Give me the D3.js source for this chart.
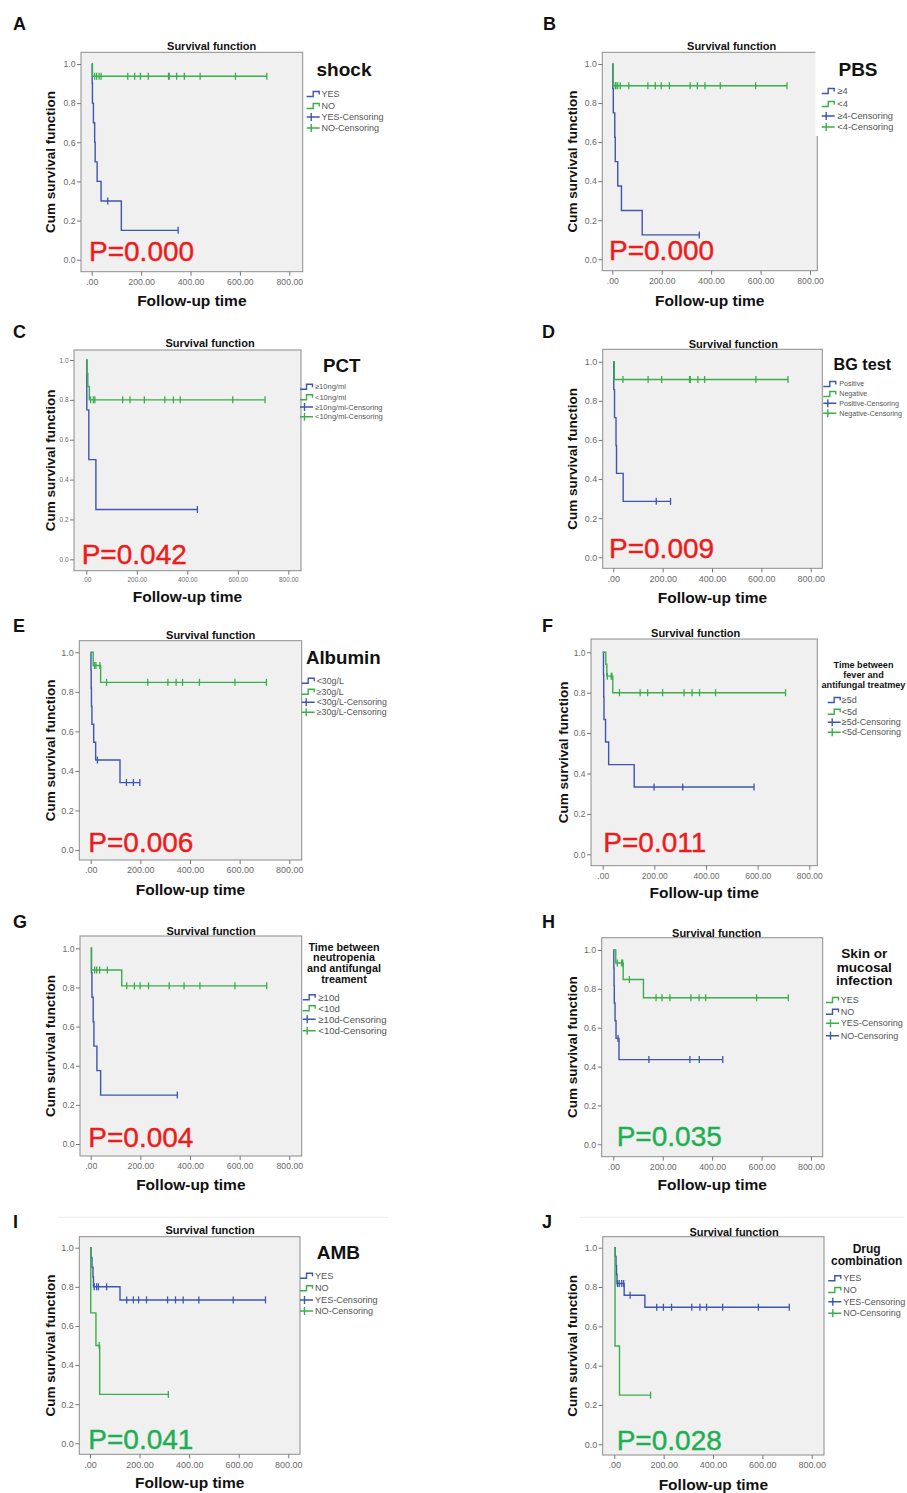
<!DOCTYPE html>
<html><head><meta charset="utf-8">
<script src="https://cdn.jsdelivr.net/npm/d3@7"></script>
<style>body{margin:0;background:#fff}svg{display:block}</style>
</head><body>
<svg id="fig" width="907" height="1493"></svg>
<script>
// ================= DATA =================
const panelLetters = ["A","B","C","D","E","F","G","H","I","J"];
const chartTitle = "Survival function";
const yAxisLabel = "Cum survival function";
const xAxisLabel = "Follow-up time";
const variableTitles = [
  ["shock"], ["PBS"], ["PCT"], ["BG test"], ["Albumin"],
  ["Time between","fever and","antifungal treatmey"],
  ["Time between","neutropenia","and antifungal","treament"],
  ["Skin or","mucosal","infection"], ["AMB"], ["Drug","combination"]
];
const pValues = ["P=0.000","P=0.000","P=0.042","P=0.009","P=0.006","P=0.011","P=0.004","P=0.035","P=0.041","P=0.028"];
const groupLabels = [
  ["YES","NO"], ["≥4","<4"], ["≥10ng/ml","<10ng/ml"], ["Positive","Negative"],
  ["<30g/L","≥30g/L"], ["≥5d","<5d"], ["≥10d","<10d"], ["YES","NO"], ["YES","NO"], ["YES","NO"]
];
const censorSuffix = "-Censoring";
const yTickValues = [0, 0.2, 0.4, 0.6, 0.8, 1.0];
const yTickLabels = ["0.0","0.2","0.4","0.6","0.8","1.0"];
const xTickValues = [0, 200, 400, 600, 800];
const xTickLabels = [".00","200.00","400.00","600.00","800.00"];

// Kaplan-Meier steps: [time, survival after event]; censored follow-up times
// A shock
const shockYesSteps = [[0,1],[2,0.9],[3,0.8],[7,0.7],[12,0.6],[14,0.5],[22,0.4],[38,0.3],[120,0.15]];
const shockYesCensored = [65,350];
const shockNoSteps = [[0,1],[3,0.9375]];
const shockNoCensored = [12,20,30,38,146,174,197,229,311,314,344,375,439,582,709];
// B PBS
const pbsHighSteps = [[0,1],[2,0.875],[4,0.75],[10,0.625],[12,0.5],[22,0.375],[37,0.25],[121,0.125]];
const pbsHighCensored = [352];
const pbsLowSteps = [[0,1],[3,0.889]];
const pbsLowCensored = [12,15,22,32,67,144,174,198,231,315,344,375,437,580,707];
// C PCT
const pctHighSteps = [[0,1],[2,0.75],[10,0.5],[38,0.25]];
const pctHighCensored = [440];
const pctLowSteps = [[0,1],[3,0.933],[6,0.867],[12,0.8]];
const pctLowCensored = [17,28,34,144,173,230,311,345,372,580,708];
// D BG test
const bgPosSteps = [[0,1],[2,0.857],[5,0.714],[11,0.571],[13,0.429],[40,0.286]];
const bgPosCensored = [174,232];
const bgNegSteps = [[0,1],[4,0.909]];
const bgNegCensored = [39,141,196,309,312,343,370,578,708];
// E Albumin
const albLowSteps = [[0,1],[1,0.909],[2,0.818],[3,0.727],[5,0.636],[12,0.545],[20,0.455],[118,0.341]];
const albLowCensored = [27,144,172,198];
const albHighSteps = [[0,1],[10,0.933],[40,0.848]];
const albHighCensored = [15,21,37,64,230,311,344,370,438,581,708];
// F fever -> antifungal
const feverLongSteps = [[0,1],[3,0.889],[4,0.778],[5,0.667],[11,0.556],[23,0.444],[122,0.333]];
const feverLongCensored = [199,310,586];
const feverShortSteps = [[0,1],[12,0.941],[16,0.882],[39,0.8]];
const feverShortCensored = [18,33,36,65,145,174,232,315,346,375,437,708];
// G neutropenia -> antifungal
const neutLongSteps = [[0,1],[3,0.875],[5,0.75],[10,0.625],[13,0.5],[25,0.375],[40,0.25]];
const neutLongCensored = [349];
const neutShortSteps = [[0,1],[3,0.889],[125,0.808]];
const neutShortCensored = [16,24,36,67,145,176,199,233,316,376,440,581,709];
// H skin / mucosal infection
const skinYesSteps = [[0,1],[10,0.933],[40,0.848],[122,0.754]];
const skinYesCensored = [16,34,38,65,173,197,229,314,347,374,580,708];
const skinNoSteps = [[0,1],[2,0.909],[3,0.818],[4,0.727],[7,0.636],[11,0.545],[23,0.436]];
const skinNoCensored = [19,144,310,348,443];
// I AMB
const ambYesSteps = [[0,1],[4,0.95],[8,0.9],[12,0.85],[14,0.8],[121,0.733]];
const ambYesCensored = [17,27,34,67,148,175,196,228,313,345,376,439,578,708];
const ambNoSteps = [[0,1],[3,0.667],[24,0.5],[39,0.25]];
const ambNoCensored = [37,316];
// J Drug combination
const comboYesSteps = [[0,1],[4,0.955],[7,0.909],[9,0.864],[11,0.818],[40,0.758],[124,0.697]];
const comboYesCensored = [13,20,30,38,64,172,199,232,314,347,374,439,584,709];
const comboNoSteps = [[0,1],[3,0.5],[21,0.25]];
const comboNoCensored = [147];

const panelCurves = [
  [[shockYesSteps,shockYesCensored],[shockNoSteps,shockNoCensored]],
  [[pbsHighSteps,pbsHighCensored],[pbsLowSteps,pbsLowCensored]],
  [[pctHighSteps,pctHighCensored],[pctLowSteps,pctLowCensored]],
  [[bgPosSteps,bgPosCensored],[bgNegSteps,bgNegCensored]],
  [[albLowSteps,albLowCensored],[albHighSteps,albHighCensored]],
  [[feverLongSteps,feverLongCensored],[feverShortSteps,feverShortCensored]],
  [[neutLongSteps,neutLongCensored],[neutShortSteps,neutShortCensored]],
  [[skinYesSteps,skinYesCensored],[skinNoSteps,skinNoCensored]],
  [[ambYesSteps,ambYesCensored],[ambNoSteps,ambNoCensored]],
  [[comboYesSteps,comboYesCensored],[comboNoSteps,comboNoCensored]]
];

// ================= STYLE / LAYOUT =================
const BLUE = "#3d55b3", GREEN = "#3aae4a";
const P_RED = "#ee1b1b", P_GREEN = "#1eaf52";
const groupColors = [
  [BLUE,GREEN],[BLUE,GREEN],[BLUE,GREEN],[BLUE,GREEN],[BLUE,GREEN],
  [BLUE,GREEN],[BLUE,GREEN],[GREEN,BLUE],[BLUE,GREEN],[BLUE,GREEN]
];
const pColors = [P_RED,P_RED,P_RED,P_RED,P_RED,P_RED,P_RED,P_GREEN,P_GREEN,P_GREEN];
const FONT = "'Liberation Sans', Arial, Helvetica, sans-serif";

const layout = [
 {frame:[81,52.3,302.7,271.7], xr:[91.7,289.3], yr:[259.7,64], letter:[13,30], title:[211.7,49.7], vt:{x:344,y:[76],size:19}, leg:{sx:306.7,tx:321.5,rows:[94,106,117,128],fs:9}, p:[89,260.7], ylabX:50, xlabY:306.3, tickFs:8.7},
 {frame:[602.3,52.3,817.3,270.7], xr:[612.3,810], yr:[259.3,64], letter:[543,30], title:[731.7,50], vt:{x:858,y:[76],size:19}, leg:{sx:821.7,tx:837.3,rows:[91,104,116,127],fs:9.3}, p:[609,260], ylabX:571.7, xlabY:306, tickFs:8.7, mask:[815.5,50,4,86]},
 {frame:[74,350,301,570.7], xr:[86.3,288.3], yr:[559.3,360], letter:[13,338.3], title:[210,346.7], vt:{x:341.7,y:[372.3],size:18.7}, leg:{sx:300,tx:315,rows:[386.7,397.3,407,416.7],fs:7.5}, p:[81.7,564.3], ylabX:50, xlabY:601.7, tickFs:6.4},
 {frame:[602.7,349.3,822.3,568.3], xr:[613.3,810.7], yr:[557.3,361.7], letter:[542,338.3], title:[733.3,348], vt:{x:862.3,y:[370],size:16.2}, leg:{sx:823.3,tx:839.3,rows:[384,394,403.3,413.3],fs:7.1}, p:[609,557.7], ylabX:571.7, xlabY:603.3, tickFs:9},
 {frame:[79.3,640.7,301.7,860], xr:[90.7,289.3], yr:[850,652.3], letter:[13,631.7], title:[210.7,639], vt:{x:343.3,y:[664],size:18.7}, leg:{sx:301.7,tx:316.7,rows:[680.7,691.7,702.3,712.3],fs:8.8}, p:[88.3,851.7], ylabX:50, xlabY:895, tickFs:9},
 {frame:[591,639,817.3,865.7], xr:[602.7,809.3], yr:[854.3,652.3], letter:[542,631.7], title:[695.7,637.3], vt:{x:863.5,y:[667.7,677.7,687.7],size:9.1}, leg:{sx:827.7,tx:841.7,rows:[700,711.7,722.3,732.3],fs:9}, p:[603.3,851.7], ylabX:563.3, xlabY:898.3, tickFs:8.5},
 {frame:[80,936,301.7,1156], xr:[90.7,289.3], yr:[1144,948.3], letter:[13,928.3], title:[211,934.7], vt:{x:344,y:[950.7,961.3,972.3,982.7],size:10.8}, leg:{sx:302.7,tx:318.3,rows:[997.3,1008.3,1019.3,1030.7],fs:9.6}, p:[88.3,1147.3], ylabX:50, xlabY:1190, tickFs:8.7},
 {frame:[601.7,937.7,822.7,1156.7], xr:[613.3,811], yr:[1144.3,950], letter:[542,928.3], title:[716.7,936.7], vt:{x:864.3,y:[958.3,972.3,985],size:13.6}, leg:{sx:826,tx:840.7,rows:[1000,1011.7,1023.3,1035.7],fs:9}, p:[616.7,1146], ylabX:571.7, xlabY:1190, tickFs:8.8},
 {frame:[79.3,1236.7,300,1454.3], xr:[90,288.3], yr:[1443.3,1247.7], letter:[13,1228.3], title:[210,1234], vt:{x:338.3,y:[1259.3],size:19}, leg:{sx:300,tx:315,rows:[1275.7,1288.3,1300,1311],fs:9.1}, p:[88.3,1449], ylabX:50, xlabY:1488, tickFs:9, topLine:[58,388,1217.3]},
 {frame:[602.7,1236.7,824,1455], xr:[614.3,811.7], yr:[1444.3,1247.7], letter:[542,1228.3], title:[734,1235.7], vt:{x:866.7,y:[1253.3,1265],size:12}, leg:{sx:828.3,tx:843.3,rows:[1278.3,1290,1301.7,1313.3],fs:9}, p:[616.7,1450], ylabX:571.7, xlabY:1490, tickFs:9, topLine:[580,905,1217.3]}
];

// ================= DRAW =================
const svg = d3.select("#fig");
svg.append("rect").attr("width",907).attr("height",1493).attr("fill","#fff");

function survivalAt(steps, t){
  let s = steps[0][1];
  for (const [ti, si] of steps){ if (ti <= t) s = si; }
  return s;
}

panelLetters.forEach((letter, i) => {
  const L = layout[i];
  const g = svg.append("g");
  const [fx0, fy0, fx1, fy1] = L.frame;

  if (L.topLine) {
    g.append("line").attr("x1",L.topLine[0]).attr("x2",L.topLine[1])
      .attr("y1",L.topLine[2]).attr("y2",L.topLine[2])
      .attr("stroke","#ebebeb").attr("stroke-width",1);
  }

  g.append("rect").attr("x",fx0).attr("y",fy0).attr("width",fx1-fx0).attr("height",fy1-fy0)
    .attr("fill","#f0f0f0").attr("stroke","#8c8c8c").attr("stroke-width",1);

  const x = d3.scaleLinear().domain([0,800]).range(L.xr);
  const y = d3.scaleLinear().domain([0,1]).range(L.yr);

  const yAxis = d3.axisLeft(y).tickValues(yTickValues)
    .tickFormat((d,k) => yTickLabels[k]).tickSize(4).tickPadding(1.5);
  const xAxis = d3.axisBottom(x).tickValues(xTickValues)
    .tickFormat((d,k) => xTickLabels[k]).tickSize(4).tickPadding(3);

  const ya = g.append("g").attr("transform",`translate(${fx0},0)`).call(yAxis);
  const xa = g.append("g").attr("transform",`translate(0,${fy1})`).call(xAxis);
  [ya, xa].forEach(a => {
    a.select(".domain").remove();
    a.selectAll(".tick line").attr("stroke","#777").attr("stroke-width",1);
    a.selectAll(".tick text").attr("fill","#6a6a6a").style("font-family",FONT).style("font-size",L.tickFs+"px");
  });

  // curves: draw blue first, then green on top
  const order = [0,1].sort((a,b) => (groupColors[i][a]===BLUE ? 0 : 1) - (groupColors[i][b]===BLUE ? 0 : 1));
  const line = d3.line().x(d => x(d[0])).y(d => y(d[1])).curve(d3.curveStepAfter);
  order.forEach(k => {
    const [steps, cens] = panelCurves[i][k];
    const color = groupColors[i][k];
    const last = steps[steps.length-1];
    const end = Math.max(last[0], d3.max(cens) || 0);
    const pts = steps.concat([[end, last[1]]]);
    g.append("path").attr("d", line(pts)).attr("fill","none")
      .attr("stroke",color).attr("stroke-width",1.4);
    g.selectAll(null).data(cens).enter().append("line")
      .attr("x1", t => x(t)).attr("x2", t => x(t))
      .attr("y1", t => y(survivalAt(steps,t)) - 3.5)
      .attr("y2", t => y(survivalAt(steps,t)) + 3.5)
      .attr("stroke",color).attr("stroke-width",1.3);
  });

  // P value
  g.append("text").attr("x",L.p[0]).attr("y",L.p[1]).text(pValues[i])
    .attr("fill",pColors[i]).attr("stroke",pColors[i]).attr("stroke-width",0.4)
    .style("font-family",FONT).style("font-size","28px");

  if (L.mask) {
    g.append("rect").attr("x",L.mask[0]).attr("y",L.mask[1]).attr("width",L.mask[2]).attr("height",L.mask[3]).attr("fill","#fff");
  }

  // chart title
  g.append("text").attr("x",L.title[0]).attr("y",L.title[1]).attr("text-anchor","middle")
    .text(chartTitle).attr("fill","#111").style("font-family",FONT).style("font-weight","bold").style("font-size","11px");

  // variable title
  variableTitles[i].forEach((t, k) => {
    g.append("text").attr("x",L.vt.x).attr("y",L.vt.y[k]).attr("text-anchor","middle")
      .text(t).attr("fill","#111").style("font-family",FONT).style("font-weight","bold")
      .style("font-size",L.vt.size+"px");
  });

  // legend
  const leg = L.leg;
  const entries = [
    {label: groupLabels[i][0], color: groupColors[i][0], type: "step"},
    {label: groupLabels[i][1], color: groupColors[i][1], type: "step"},
    {label: groupLabels[i][0] + censorSuffix, color: groupColors[i][0], type: "cens"},
    {label: groupLabels[i][1] + censorSuffix, color: groupColors[i][1], type: "cens"}
  ];
  entries.forEach((e, k) => {
    const cy = leg.rows[k], sx = leg.sx;
    if (e.type === "step") {
      g.append("path").attr("d",`M${sx},${cy+2.5}H${sx+6.5}V${cy-2.5}H${sx+12.5}V${cy+0.5}`)
        .attr("fill","none").attr("stroke",e.color).attr("stroke-width",1.4);
    } else {
      g.append("path").attr("d",`M${sx},${cy}H${sx+13}M${sx+4.5},${cy-4}V${cy+4}`)
        .attr("fill","none").attr("stroke",e.color).attr("stroke-width",1.4);
    }
    g.append("text").attr("x",leg.tx).attr("y",cy).attr("dy","0.35em").text(e.label)
      .attr("fill","#555").style("font-family",FONT).style("font-size",leg.fs+"px");
  });

  // axis labels
  const cyMid = (fy0 + fy1) / 2;
  g.append("text").attr("transform",`translate(${L.ylabX},${cyMid}) rotate(-90)`)
    .attr("text-anchor","middle").attr("dy","0.36em").text(yAxisLabel)
    .attr("fill","#111").style("font-family",FONT).style("font-weight","bold").style("font-size","13.5px");
  g.append("text").attr("x",(fx0+fx1)/2).attr("y",L.xlabY).attr("text-anchor","middle")
    .text(xAxisLabel).attr("fill","#111").style("font-family",FONT).style("font-weight","bold").style("font-size","15.5px");

  // panel letter
  g.append("text").attr("x",L.letter[0]).attr("y",L.letter[1]).text(letter)
    .attr("fill","#111").style("font-family",FONT).style("font-weight","bold").style("font-size","18px");
});
</script>
</body></html>
